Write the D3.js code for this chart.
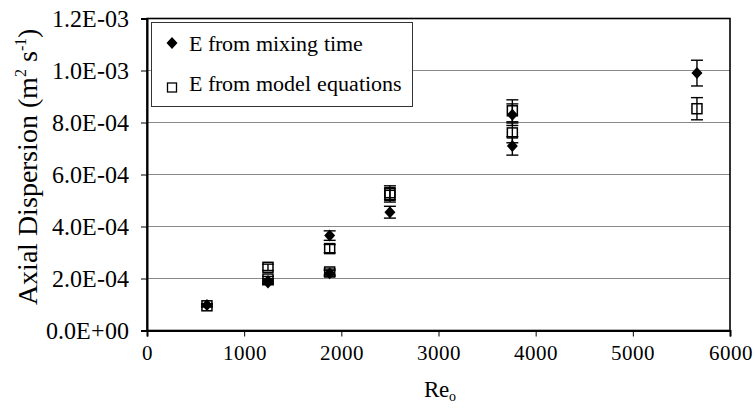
<!DOCTYPE html>
<html>
<head>
<meta charset="utf-8">
<script src="https://cdn.jsdelivr.net/npm/d3@7"></script>
<style>
  @font-face { font-family: "ChartSerif"; src: local("Liberation Serif"), local("LiberationSerif"), local("Liberation Serif Regular"); }
  html, body { margin: 0; padding: 0; background: #fff; }
</style>
</head>
<body>
<svg id="chart" width="755" height="408"></svg>
<script>
// Reynolds numbers and axial dispersion coefficients (m^2 s^-1)
const reMixing = [617, 1245, 1245, 1880, 1880, 2500, 3760, 3760, 5660];
const eMixing  = [9.8e-5, 1.85e-4, 1.9e-4, 3.65e-4, 2.2e-4, 4.55e-4, 8.3e-4, 7.1e-4, 9.9e-4];
const reModel  = [617, 1245, 1245, 1880, 1880, 2500, 2500, 3760, 3760, 5660];
const eModel   = [9.5e-5, 2.43e-4, 1.98e-4, 3.15e-4, 2.25e-4, 5.2e-4, 5.3e-4, 8.45e-4, 7.6e-4, 8.53e-4];
// relative error shown by the error bars
const relError = 0.05;

const xTicks = [0, 1000, 2000, 3000, 4000, 5000, 6000];
const yTicks = [0, 2e-4, 4e-4, 6e-4, 8e-4, 1.0e-3, 1.2e-3];
const seriesNames = ["E from mixing time", "E from model equations"];

const FONT = "ChartSerif, Liberation Serif, Times New Roman, serif";
const svg = d3.select("#chart").attr("font-family", FONT);
const plot = { left: 147, right: 730, top: 18.5, bottom: 330.5 };

const x = d3.scaleLinear().domain([0, 6000]).range([plot.left, plot.right]);
const y = d3.scaleLinear().domain([0, 1.2e-3]).range([plot.bottom, plot.top]);

// "1.2E-03" style labels
const sci = v => {
  const [m, e] = v.toExponential(1).split("e");
  const n = Math.abs(+e);
  return m + "E" + (+e < 0 ? "-" : "+") + String(n).padStart(2, "0");
};

// horizontal gridlines
svg.append("g")
  .selectAll("line")
  .data(yTicks.filter(t => t > 0 && t < 1.2e-3))
  .join("line")
  .attr("x1", plot.left).attr("x2", plot.right)
  .attr("y1", d => y(d)).attr("y2", d => y(d))
  .attr("stroke", "#8a8a8a").attr("stroke-width", 1.2);

// plot frame
svg.append("rect")
  .attr("x", plot.left).attr("y", plot.top)
  .attr("width", plot.right - plot.left).attr("height", plot.bottom - plot.top)
  .attr("fill", "none").attr("stroke", "#000").attr("stroke-width", 1.6);

// axes
const xAxis = svg.append("g")
  .attr("transform", `translate(0,${plot.bottom})`)
  .call(d3.axisBottom(x).tickValues(xTicks).tickSize(6).tickPadding(9).tickFormat(d3.format("d")));
const yAxis = svg.append("g")
  .attr("transform", `translate(${plot.left},0)`)
  .call(d3.axisLeft(y).tickValues(yTicks).tickSize(6).tickPadding(12).tickFormat(sci));
[xAxis, yAxis].forEach(a => {
  a.attr("font-family", FONT);
  a.select(".domain").attr("stroke", "#000").attr("stroke-width", 2);
  a.selectAll(".tick line").attr("stroke", "#000").attr("stroke-width", 1);
  a.selectAll(".tick text").attr("fill", "#000");
});
xAxis.attr("font-size", 21);
yAxis.attr("font-size", 23.5);

// axis titles
const xt = svg.append("text")
  .attr("x", x(3000) + 1).attr("y", 397)
  .attr("text-anchor", "middle").attr("font-size", 23);
xt.append("tspan").text("Re");
xt.append("tspan").attr("dy", 4).attr("font-size", 14).text("o");

const yt = svg.append("text")
  .attr("transform", `translate(37,${(plot.top + plot.bottom) / 2 - 8}) rotate(-90)`)
  .attr("text-anchor", "middle").attr("font-size", 28);
yt.append("tspan").text("Axial Dispersion (m");
yt.append("tspan").attr("dy", -11).attr("font-size", 16).text("2");
yt.append("tspan").attr("dy", 11).text(" s");
yt.append("tspan").attr("dy", -11).attr("font-size", 16).text("-1");
yt.append("tspan").attr("dy", 11).text(")");

// error bars
function errorBars(g, re, vals) {
  const data = re.map((r, i) => ({ r, v: vals[i] }));
  const eb = g.append("g").attr("stroke", "#000").attr("stroke-width", 1.4);
  eb.selectAll("line.v").data(data).join("line")
    .attr("x1", d => x(d.r)).attr("x2", d => x(d.r))
    .attr("y1", d => y(d.v * (1 - relError))).attr("y2", d => y(d.v * (1 + relError)));
  [1 - relError, 1 + relError].forEach(f => {
    eb.selectAll(null).data(data).join("line")
      .attr("x1", d => x(d.r) - 6).attr("x2", d => x(d.r) + 6)
      .attr("y1", d => y(d.v * f)).attr("y2", d => y(d.v * f));
  });
  return data;
}

const markers = svg.append("g");
const modelData = errorBars(markers, reModel, eModel);
const mixData = errorBars(markers, reMixing, eMixing);

markers.append("g").selectAll("rect").data(modelData).join("rect")
  .attr("x", d => x(d.r) - 5).attr("y", d => y(d.v) - 5)
  .attr("width", 10).attr("height", 10)
  .attr("fill", "none").attr("stroke", "#000").attr("stroke-width", 1.5);

const diamond = "M0,-6L5.5,0L0,6L-5.5,0Z";
markers.append("g").selectAll("path").data(mixData).join("path")
  .attr("d", diamond)
  .attr("transform", d => `translate(${x(d.r)},${y(d.v)})`)
  .attr("fill", "#000");

// legend
const lg = svg.append("g");
lg.append("rect")
  .attr("x", 151.5).attr("y", 22.5).attr("width", 261).attr("height", 84)
  .attr("fill", "#fff").attr("stroke", "#333").attr("stroke-width", 1);
lg.append("path").attr("d", diamond).attr("transform", "translate(172,43)").attr("fill", "#000");
lg.append("rect").attr("x", 167.5).attr("y", 83).attr("width", 9).attr("height", 9)
  .attr("fill", "none").attr("stroke", "#000").attr("stroke-width", 1.3);
lg.selectAll("text").data(seriesNames).join("text")
  .attr("x", 189).attr("y", (d, i) => 51 + i * 40)
  .attr("font-size", 22).text(d => d);
</script>
</body>
</html>
